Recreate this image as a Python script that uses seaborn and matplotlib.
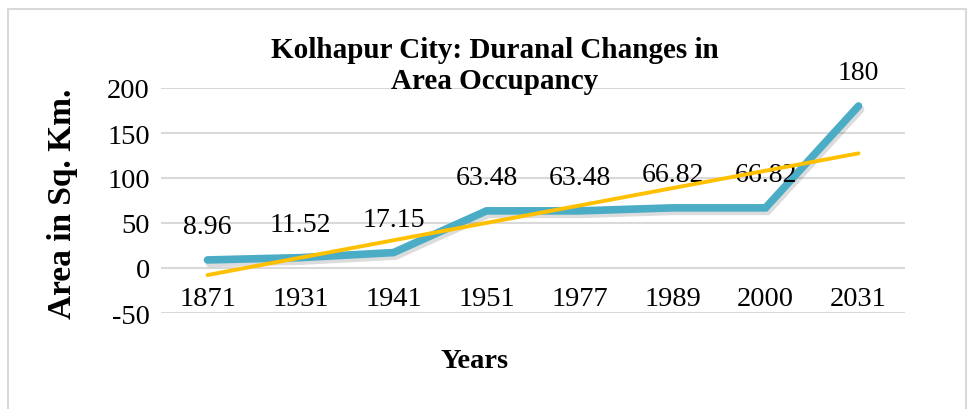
import numpy as np
import pandas as pd
import seaborn as sns
import matplotlib.pyplot as plt
import matplotlib.patheffects as pe
from matplotlib.patches import Rectangle

# data
years = ["1871", "1931", "1941", "1951", "1977", "1989", "2000", "2031"]
area = [8.96, 11.52, 17.15, 63.48, 63.48, 66.82, 66.82, 180]
value_labels = ["8.96", "11.52", "17.15", "63.48", "63.48", "66.82", "66.82", "180"]
y_ticks = [-50, 0, 50, 100, 150, 200]

tabela = pd.DataFrame({"pos": np.arange(len(years)), "area": area})

# linear trend line (like excel's trendline)
coef = np.polyfit(tabela["pos"], tabela["area"], 1)
tabela["trend"] = np.polyval(coef, tabela["pos"])

sns.set_theme(style="white")
plt.rcParams["font.family"] = ["Liberation Serif", "DejaVu Serif"]
plt.rcParams["text.color"] = "black"
plt.rcParams["axes.labelcolor"] = "black"
plt.rcParams["xtick.color"] = "black"
plt.rcParams["ytick.color"] = "black"

fig = plt.figure(figsize=(9.69, 4.10), dpi=100)
ax = fig.add_axes([161 / 969, 1 - 314 / 410, (905 - 161) / 969, (314 - 89) / 410])

sns.lineplot(data=tabela, x="pos", y="area", ax=ax, color="#4BACC6", linewidth=5.5,
             solid_capstyle="round", solid_joinstyle="miter", zorder=3,
             path_effects=[pe.SimpleLineShadow(offset=(1.5, -2.5), alpha=0.15), pe.Normal()])
sns.lineplot(data=tabela, x="pos", y="trend", ax=ax, color="#FFC000", linewidth=2.8,
             solid_capstyle="round", zorder=4)

# data labels above each point
for x, y, lab in zip(tabela["pos"], tabela["area"], value_labels):
    ax.annotate(lab, (x, y), xytext=(0, 15), textcoords="offset points",
                ha="center", va="bottom", fontsize=20, color="black")

ax.set_xlim(-0.5, len(years) - 0.5)
ax.set_ylim(-50, 200)
ax.set_yticks(y_ticks)
ax.set_yticklabels([str(t) for t in y_ticks], fontsize=20.5)
ax.grid(axis="y", color="#D9D9D9", linewidth=1.5)
ax.grid(axis="x", visible=False)
for s in ax.spines.values():
    s.set_visible(False)
ax.tick_params(axis="y", length=0, pad=8)

# x axis crosses at 0, labels below it
ax.spines["bottom"].set_position(("data", 0))
ax.set_xticks(tabela["pos"])
ax.set_xticklabels(years, fontsize=20.5)
ax.tick_params(axis="x", length=0, pad=13)

ax.set_xlabel("")
ax.set_ylabel("Area in Sq. Km.", fontsize=24, fontweight="bold", labelpad=10)
ax.yaxis.set_label_coords(-0.112, 0.49)

fig.text(495 / 969, 1 - 66 / 410, "Kolhapur City: Duranal Changes in\nArea Occupancy",
         ha="center", va="center", fontsize=21, fontweight="bold", linespacing=1.2)
fig.text(475 / 969, 1 - 362 / 410, "Years", ha="center", va="center",
         fontsize=20.5, fontweight="bold")

# chart border
fig.patches.append(Rectangle((8 / 969, -0.05), 958 / 969, 1.05 - 10 / 410,
                             transform=fig.transFigure, fill=False,
                             edgecolor="#D9D9D9", linewidth=1.5))

fig.savefig("out.png", dpi=100)
